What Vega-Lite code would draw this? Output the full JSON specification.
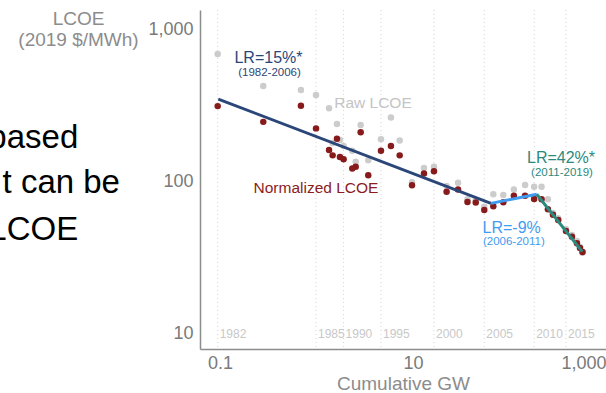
{
  "$schema": "https://vega.github.io/schema/vega-lite/v6.json",
  "width": 406,
  "height": 339,
  "autosize": "none",
  "padding": {"left": 200, "top": 10, "right": 0, "bottom": 44},
  "background": "white",
  "config": {
    "font": "Liberation Sans",
    "view": {"stroke": null},
    "axis": {"domainColor": "#8c8c8c", "domainWidth": 1.5, "ticks": false, "grid": false,
             "labelFont": "Liberation Sans", "titleFont": "Liberation Sans",
             "labelColor": "#7a7a7a", "titleColor": "#8c8c8c", "titleFontWeight": "normal",
             "labelFontSize": 18, "titleFontSize": 19}
  },
  "datasets": {
    "pts": [
      {"year": 1982, "gw": 0.0947, "raw": 685, "norm": 311},
      {"year": 1983, "gw": 0.281, "raw": 422, "norm": 245},
      {"year": 1984, "gw": 0.69, "raw": 397, "norm": 313},
      {"year": 1985, "gw": 0.989, "raw": 368, "norm": 222},
      {"year": 1986, "gw": 1.35, "raw": 301, "norm": 160},
      {"year": 1987, "gw": 1.47, "raw": 178, "norm": 147.5},
      {"year": 1988, "gw": 1.63, "raw": 237, "norm": 190},
      {"year": 1989, "gw": 1.75, "raw": 186, "norm": 144},
      {"year": 1990, "gw": 1.91, "raw": 170, "norm": 139},
      {"year": 1991, "gw": 2.35, "raw": 158, "norm": 121},
      {"year": 1992, "gw": 2.55, "raw": 134, "norm": 124},
      {"year": 1993, "gw": 2.87, "raw": 234, "norm": 209},
      {"year": 1994, "gw": 3.44, "raw": 137, "norm": 109},
      {"year": 1995, "gw": 4.66, "raw": 188, "norm": 158},
      {"year": 1996, "gw": 5.91, "raw": 262, "norm": 170},
      {"year": 1997, "gw": 7.28, "raw": 185, "norm": 147.5},
      {"year": 1998, "gw": 9.77, "raw": 98, "norm": 93.7},
      {"year": 1999, "gw": 13.0, "raw": 122, "norm": 112},
      {"year": 2000, "gw": 16.5, "raw": 124, "norm": 116},
      {"year": 2001, "gw": 22.3, "raw": 92.7, "norm": 85},
      {"year": 2002, "gw": 29.3, "raw": 97.5, "norm": 88},
      {"year": 2003, "gw": 36.7, "raw": 76, "norm": 72.8},
      {"year": 2004, "gw": 44.7, "raw": 75, "norm": 72.2},
      {"year": 2005, "gw": 54.8, "raw": 67.8, "norm": 64.4},
      {"year": 2006, "gw": 68, "raw": 81.7, "norm": 68.2},
      {"year": 2007, "gw": 86.3, "raw": 80.9, "norm": 72.5},
      {"year": 2008, "gw": 111, "raw": 88.1, "norm": 80},
      {"year": 2009, "gw": 145, "raw": 94.1, "norm": 80},
      {"year": 2010, "gw": 180, "raw": 91.8, "norm": 76.2},
      {"year": 2011, "gw": 215, "raw": 91.8, "norm": 76},
      {"year": 2012, "gw": 250, "raw": 75.8, "norm": 65.2},
      {"year": 2013, "gw": 282, "raw": 61.5, "norm": 60},
      {"year": 2014, "gw": 320, "raw": 57, "norm": 55.4},
      {"year": 2015, "gw": 385, "raw": 48.3, "norm": 46.9},
      {"year": 2016, "gw": 444, "raw": 44.2, "norm": 43},
      {"year": 2017, "gw": 500, "raw": 40.3, "norm": 38.9},
      {"year": 2018, "gw": 538, "raw": 36.8, "norm": 36.2},
      {"year": 2019, "gw": 571, "raw": 33.7, "norm": 34.1}
    ],
    "years": [
      {"label": "1982", "gw": 0.0947},
      {"label": "1985", "gw": 0.989},
      {"label": "1990", "gw": 1.91},
      {"label": "1995", "gw": 4.66},
      {"label": "2000", "gw": 16.5},
      {"label": "2005", "gw": 54.8},
      {"label": "2010", "gw": 180},
      {"label": "2015", "gw": 385}
    ],
    "fits": [
      {"series": "1982-2006", "gw": 0.096, "lcoe": 346},
      {"series": "1982-2006", "gw": 64.3, "lcoe": 71.3},
      {"series": "2006-2011", "gw": 64.3, "lcoe": 71.3},
      {"series": "2006-2011", "gw": 191.5, "lcoe": 81.8},
      {"series": "2011-2019", "gw": 191.5, "lcoe": 81.8},
      {"series": "2011-2019", "gw": 567, "lcoe": 34.3}
    ],
    "notes": [
      {"text": "LR=15%*", "gw": 0.318, "lcoe": 644, "series": "1982-2006", "role": "lr"},
      {"text": "(1982-2006)", "gw": 0.326, "lcoe": 514, "series": "1982-2006", "role": "period"},
      {"text": "LR=-9%", "gw": 105.4, "lcoe": 48.9, "series": "2006-2011", "role": "lr"},
      {"text": "(2006-2011)", "gw": 111, "lcoe": 39.9, "series": "2006-2011", "role": "period"},
      {"text": "LR=42%*", "gw": 342, "lcoe": 141, "series": "2011-2019", "role": "lr"},
      {"text": "(2011-2019)", "gw": 350, "lcoe": 113.5, "series": "2011-2019", "role": "period"},
      {"text": "Raw LCOE", "gw": 3.85, "lcoe": 324, "series": "Raw LCOE", "role": "name"},
      {"text": "Normalized LCOE", "gw": 0.989, "lcoe": 90.3, "series": "Normalized LCOE", "role": "name"}
    ],
    "slide": [
      {"text": "based", "gw": 0.0034, "lcoe": 192},
      {"text": "t can be", "gw": 0.0092, "lcoe": 97},
      {"text": "LCOE", "gw": 0.0034, "lcoe": 47.6}
    ]
  },
  "layer": [
    {
      "data": {"name": "years"},
      "mark": {"type": "rule", "color": "#d4d4d4", "strokeDash": [1, 3], "strokeWidth": 1},
      "encoding": {
        "x": {"field": "gw", "type": "quantitative",
              "scale": {"type": "log", "domain": [0.0621, 1000], "nice": false},
              "axis": {"values": [0.1, 10, 1000], "format": ",", "labelFlush": true, "labelPadding": 5,
                       "title": "Cumulative GW", "titlePadding": 2}}
      }
    },
    {
      "data": {"name": "years"},
      "mark": {"type": "text", "align": "left", "baseline": "middle", "dx": 2, "dy": 1, "fontSize": 12, "color": "#c8c8c8"},
      "encoding": {
        "x": {"field": "gw", "type": "quantitative"},
        "y": {"datum": 10, "type": "quantitative",
              "scale": {"type": "log", "domain": [7.85, 1334], "nice": false},
              "axis": {"values": [10, 100, 1000], "format": ",", "labelPadding": 7,
                       "title": ["LCOE", "(2019 $/MWh)"], "titleAngle": 0, "titleAlign": "center",
                       "titleBaseline": "top", "titleX": -122, "titleY": -1, "titleLineHeight": 21}},
        "text": {"field": "label"}
      }
    },
    {
      "data": {"name": "pts"},
      "mark": {"type": "circle", "size": 42, "opacity": 1, "color": "#cccccc"},
      "encoding": {
        "x": {"field": "gw", "type": "quantitative"},
        "y": {"field": "raw", "type": "quantitative"}
      }
    },
    {
      "data": {"name": "pts"},
      "mark": {"type": "circle", "size": 42, "opacity": 1, "color": "#871b1b"},
      "encoding": {
        "x": {"field": "gw", "type": "quantitative"},
        "y": {"field": "norm", "type": "quantitative"}
      }
    },
    {
      "data": {"name": "fits"},
      "mark": {"type": "line", "strokeWidth": 3},
      "encoding": {
        "x": {"field": "gw", "type": "quantitative"},
        "y": {"field": "lcoe", "type": "quantitative"},
        "color": {"field": "series", "type": "nominal", "legend": null,
                  "scale": {"domain": ["1982-2006", "2006-2011", "2011-2019", "Raw LCOE", "Normalized LCOE"],
                            "range": ["#2b4678", "#3f9cf0", "#2a8a7e", "#c4c4c4", "#8b1c1c"]}}
      }
    },
    {
      "data": {"name": "notes"},
      "transform": [{"filter": "datum.role === 'lr'"}],
      "mark": {"type": "text", "align": "center", "baseline": "middle", "fontSize": 16},
      "encoding": {
        "x": {"field": "gw", "type": "quantitative"},
        "y": {"field": "lcoe", "type": "quantitative"},
        "text": {"field": "text"},
        "color": {"field": "series", "type": "nominal", "legend": null}
      }
    },
    {
      "data": {"name": "notes"},
      "transform": [{"filter": "datum.role === 'period'"}],
      "mark": {"type": "text", "align": "center", "baseline": "middle", "fontSize": 11.5},
      "encoding": {
        "x": {"field": "gw", "type": "quantitative"},
        "y": {"field": "lcoe", "type": "quantitative"},
        "text": {"field": "text"},
        "color": {"field": "series", "type": "nominal", "legend": null}
      }
    },
    {
      "data": {"name": "notes"},
      "transform": [{"filter": "datum.role === 'name'"}],
      "mark": {"type": "text", "align": "center", "baseline": "middle", "fontSize": 15.5},
      "encoding": {
        "x": {"field": "gw", "type": "quantitative"},
        "y": {"field": "lcoe", "type": "quantitative"},
        "text": {"field": "text"},
        "color": {"field": "series", "type": "nominal", "legend": null}
      }
    },
    {
      "data": {"name": "slide"},
      "mark": {"type": "text", "align": "right", "baseline": "middle", "fontSize": 33, "color": "#000000"},
      "encoding": {
        "x": {"field": "gw", "type": "quantitative"},
        "y": {"field": "lcoe", "type": "quantitative"},
        "text": {"field": "text"}
      }
    }
  ]
}
